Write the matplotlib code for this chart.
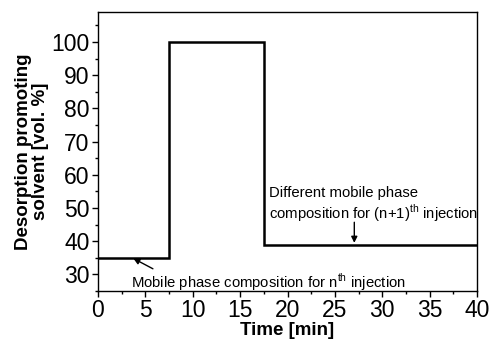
import matplotlib
matplotlib.use("Agg")
import matplotlib.pyplot as plt
from matplotlib.ticker import MultipleLocator

plt.rcParams['font.family'] = ['Liberation Sans', 'DejaVu Sans']

time_min = [0, 7.5, 7.5, 17.5, 17.5, 40]
solvent_pct = [35, 35, 100, 100, 39, 39]
x_ticks = [0, 5, 10, 15, 20, 25, 30, 35, 40]
y_ticks = [30, 40, 50, 60, 70, 80, 90, 100]

fig = plt.figure(figsize=(4.91, 3.46), dpi=100)
ax = fig.add_axes([98/491, 1 - 291/346, (477-98)/491, (291-12)/346])

ax.plot(time_min, solvent_pct, color='black', lw=1.8, solid_joinstyle='miter')
ax.set_xlim(0, 40)
ax.set_ylim(25, 109)
ax.set_xticks(x_ticks)
ax.set_yticks(y_ticks)
ax.xaxis.set_minor_locator(MultipleLocator(2.5))
ax.yaxis.set_minor_locator(MultipleLocator(5))
ax.tick_params(which='major', direction='out', length=4, width=1, labelsize=16.5, pad=2)
ax.tick_params(which='minor', direction='out', length=2.5, width=1)
for s in ax.spines.values():
    s.set_linewidth(1.0)

ax.set_xlabel('Time [min]', fontsize=13.5, fontweight='bold', labelpad=0)
ax.set_ylabel('Desorption promoting\nsolvent [vol. %]', fontsize=13.5,
              fontweight='bold', labelpad=2, linespacing=1.0)

ax.annotate('Mobile phase composition for n$^{\\mathregular{th}}$ injection',
            xy=(3.6, 35), xytext=(3.45, 27.6), fontsize=10.7, ha='left', va='center',
            arrowprops=dict(arrowstyle='-|>', color='black', lw=1, mutation_scale=9,
                            shrinkA=0, shrinkB=1, relpos=(0.1, 1.0)))

ax.text(18.05, 50.9, 'Different mobile phase\ncomposition for (n+1)$^{\\mathregular{th}}$ injection',
        fontsize=10.7, ha='left', va='center', linespacing=1.1)
ax.annotate('', xy=(27.05, 39.5), xytext=(27.05, 45.7),
            arrowprops=dict(arrowstyle='-|>', color='black', lw=1, mutation_scale=9,
                            shrinkA=0, shrinkB=0))

fig.savefig('out.png', dpi=100)
